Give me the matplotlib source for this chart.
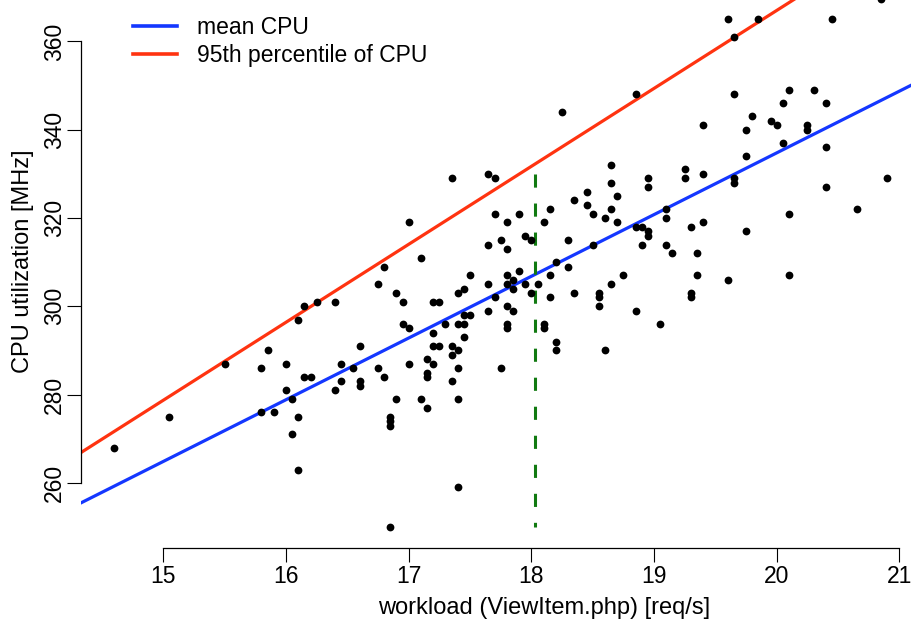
import matplotlib
matplotlib.use("Agg")
import matplotlib.pyplot as plt

plt.rcParams['font.family'] = ['Liberation Sans', 'DejaVu Sans']

# measured workload vs. CPU utilization samples
workload = [
    14.60, 15.05, 15.50, 15.80, 15.85, 15.80, 15.90, 16.00, 16.00, 16.05,
    16.05, 16.10, 16.10, 16.10, 16.15, 16.15, 16.20, 16.25, 16.40, 16.40,
    16.45, 16.45, 16.55, 16.60, 16.60, 16.60, 16.75, 16.80, 16.85, 16.85,
    16.85, 16.85, 16.90, 16.95, 16.95, 17.00, 17.00, 17.10, 17.15, 17.15,
    17.15, 17.15, 17.20, 17.25, 17.20, 17.20, 17.25, 17.20, 17.30, 17.35,
    17.35, 17.35, 17.40, 17.40, 17.40, 17.40, 17.40, 16.75, 16.80, 16.90,
    17.00, 17.10, 17.35, 17.40, 17.45, 17.50, 17.45, 17.50, 17.45, 17.45,
    17.65, 17.70, 17.65, 17.70, 17.75, 17.80, 17.80, 17.90, 17.95, 18.00,
    18.10, 18.15, 17.65, 17.65, 17.70, 17.80, 17.80, 17.85, 17.85, 17.90,
    17.95, 18.00, 18.05, 18.15, 18.15, 17.80, 17.85, 17.80, 17.80, 18.10,
    18.10, 17.75, 18.20, 18.30, 18.30, 18.35, 18.35, 18.45, 18.45, 18.50,
    18.50, 18.55, 18.55, 18.55, 18.60, 18.65, 18.65, 18.65, 18.65, 18.70,
    18.70, 18.75, 18.85, 18.90, 18.95, 18.95, 18.85, 18.95, 18.95, 18.90,
    19.10, 19.10, 19.10, 19.15, 18.20, 18.20, 18.60, 19.05, 18.25, 18.85,
    19.25, 19.25, 19.30, 19.40, 19.35, 19.35, 19.30, 19.30, 19.40, 19.40,
    19.60, 19.60, 19.65, 19.65, 19.65, 19.65, 19.75, 19.75, 19.75, 19.80,
    19.85, 19.95, 20.00, 20.05, 20.05, 20.10, 20.10, 20.10, 20.25, 20.25,
    20.30, 20.40, 20.40, 20.40, 20.45, 20.65, 20.90, 20.85,
]
cpu_mhz = [
    268, 275, 287, 286, 290, 276, 276, 287, 281, 279,
    271, 275, 263, 297, 300, 284, 284, 301, 301, 281,
    287, 283, 286, 291, 283, 282, 286, 284, 275, 274,
    273, 250, 279, 301, 296, 295, 287, 279, 288, 285,
    284, 277, 301, 301, 294, 291, 291, 287, 296, 291,
    289, 283, 296, 290, 286, 279, 259, 305, 309, 303,
    319, 311, 329, 303, 304, 307, 298, 298, 296, 293,
    330, 329, 314, 321, 315, 319, 313, 321, 316, 315,
    319, 322, 305, 299, 302, 307, 305, 306, 304, 308,
    305, 303, 305, 307, 302, 300, 299, 296, 295, 296,
    295, 286, 310, 315, 309, 324, 303, 326, 323, 321,
    314, 303, 302, 300, 320, 332, 328, 322, 305, 325,
    319, 307, 318, 318, 317, 316, 299, 329, 327, 314,
    322, 320, 314, 312, 292, 290, 290, 296, 344, 348,
    331, 329, 318, 319, 312, 307, 303, 302, 330, 341,
    306, 365, 361, 348, 329, 328, 340, 334, 317, 343,
    365, 342, 341, 346, 337, 349, 321, 307, 341, 340,
    349, 346, 336, 327, 365, 322, 329, 369.5,
]

# fitted lines, evaluated at the ends of the workload range
fit_x = [14.3, 21.1]
mean_fit = [255.07, 350.14]
p95_fit = [266.36, 386.45]

# threshold marker
threshold_x = [18.03, 18.03]
threshold_y = [330, 250]

x_ticks = [15, 16, 17, 18, 19, 20, 21]
y_ticks = [260, 280, 300, 320, 340, 360]

W, H = 911, 622
fig = plt.figure(figsize=(W / 100, H / 100), dpi=100)
left, bottom = 80.7, 548.3
ax = fig.add_axes([left / W, (H - bottom) / H, (W - left) / W, bottom / H])

ax.plot(fit_x, mean_fit, color='#1437ff', lw=2.3, label='mean CPU', zorder=2)
ax.plot(fit_x, p95_fit, color='#ff3310', lw=2.3, label='95th percentile of CPU', zorder=2)
ax.plot(threshold_x, threshold_y, color='#117a11', lw=2.2, dashes=(4.3, 5.2), zorder=2)
ax.plot(workload, cpu_mhz, 'o', color='black', markersize=5.6, markeredgewidth=0, zorder=3)

ax.set_xlim(14.327, 21.094)
ax.set_ylim(245.19, 369.38)

for side in ['top', 'right']:
    ax.spines[side].set_visible(False)
ax.spines['bottom'].set_bounds(15, 21)
ax.spines['left'].set_bounds(260, 360)
ax.spines['bottom'].set_linewidth(0.9)
ax.spines['left'].set_linewidth(0.9)

ax.set_xticks(x_ticks)
ax.set_yticks(y_ticks)
ax.set_yticklabels([str(v) for v in y_ticks], rotation=90, va='center')
ax.tick_params(axis='both', direction='out', length=10, width=0.8, labelsize=16.5)
ax.tick_params(axis='x', pad=2.0)
ax.tick_params(axis='y', pad=0.5)

fig.text(544.5 / W, 1 - 608 / H, 'workload (ViewItem.php) [req/s]',
         ha='center', va='center', fontsize=17)
fig.text(23 / W, 1 - 261.5 / H, 'CPU utilization [MHz]', rotation=90,
         ha='center', va='center', fontsize=17)

leg = ax.legend(loc='upper left', bbox_to_anchor=(133 / W, 1 - 16 / H),
                bbox_transform=fig.transFigure, frameon=False, fontsize=16.5,
                handlelength=1.92, handletextpad=0.87, labelspacing=0.2,
                borderpad=0, borderaxespad=0)
for line in leg.get_lines():
    line.set_linewidth(2.6)

fig.savefig('out.png', dpi=100)
